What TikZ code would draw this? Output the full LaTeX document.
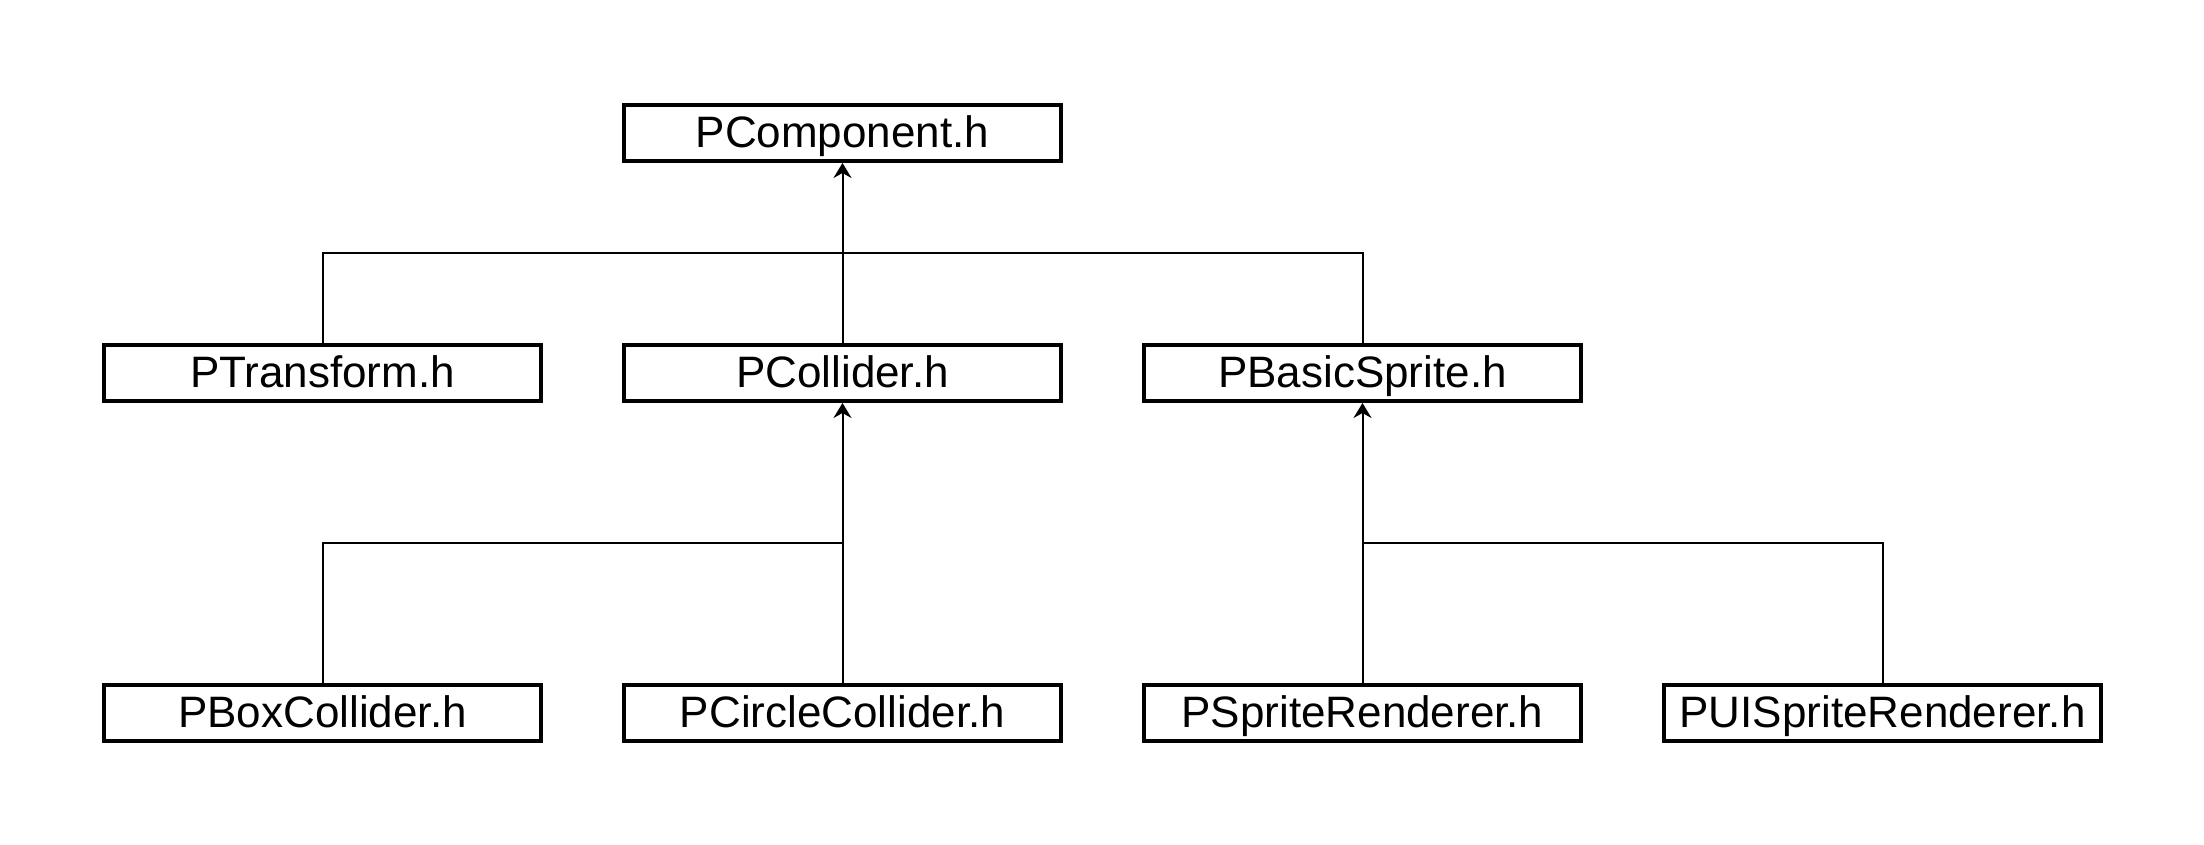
\documentclass[tikz,border=0pt]{standalone}
\usepackage{fontspec}
\setmainfont{Liberation Sans}
\usetikzlibrary{arrows.meta}
\begin{document}
\begin{tikzpicture}[x=1pt,y=-1pt,
  cls/.style={draw, line width=4pt, minimum width=437pt, minimum height=56pt, inner sep=0pt, fill=white,
    text height=32pt, text depth=4pt,
    font=\fontsize{44}{52}\selectfont},
  conn/.style={line width=2pt},
  inh/.style={line width=2pt, -{Stealth[length=15pt,width=18pt,inset=5pt]}}]
\fill[white] (0,0) rectangle (2204,844);
\useasboundingbox (0,0) rectangle (2204,844);
\node[cls] (comp) at (842.5,133) {PComponent.h};
\node[cls] (trans) at (322.5,373) {PTransform.h};
\node[cls] (coll) at (842.5,373) {PCollider.h};
\node[cls] (basic) at (1362.5,373) {PBasicSprite.h};
\node[cls] (box) at (322.5,713) {PBoxCollider.h};
\node[cls] (circ) at (842.5,713) {PCircleCollider.h};
\node[cls] (sr) at (1362.5,713) {PSpriteRenderer.h};
\node[cls] (uisr) at (1882.5,713) {PUISpriteRenderer.h};
\coordinate (j1) at (842.5,253);
\coordinate (j2) at (842.5,543);
\coordinate (j3) at (1362.5,543);
\draw[conn] (trans.north) |- (j1);
\draw[conn] (basic.north) |- (j1);
\draw[conn] (coll.north) -- (j1);
\draw[inh] (j1) -- (comp.south);
\draw[conn] (box.north) |- (j2);
\draw[conn] (circ.north) -- (j2);
\draw[inh] (j2) -- (coll.south);
\draw[conn] (uisr.north) |- (j3);
\draw[conn] (sr.north) -- (j3);
\draw[inh] (j3) -- (basic.south);
\end{tikzpicture}
\end{document}
